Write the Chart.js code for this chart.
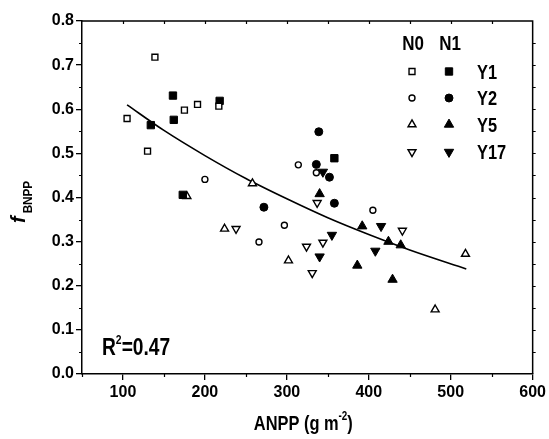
<!DOCTYPE html>
<html>
<head>
<meta charset="utf-8">
<script src="https://cdn.jsdelivr.net/npm/chart.js@4.4.1/dist/chart.umd.min.js"></script>
<style>
  html, body { margin: 0; padding: 0; background: #fff; }
  #wrap { width: 549px; height: 439px; }
</style>
</head>
<body>
<div id="wrap"><canvas id="chart" width="549" height="439"></canvas></div>
<script>
// axis ticks
const xTicks = [100, 200, 300, 400, 500, 600];
const xMinorTicks = [50, 150, 250, 350, 450, 550];
const yTicks = [0, 0.1, 0.2, 0.3, 0.4, 0.5, 0.6, 0.7, 0.8];
const yMinorTicks = [0.05, 0.15, 0.25, 0.35, 0.45, 0.55, 0.65, 0.75];

// series: [ANPP, fBNPP]
const y1N0 = [[105, 0.579], [139, 0.718], [130, 0.505], [175, 0.598], [191, 0.611], [217, 0.607]];
const y1N1 = [[134, 0.564], [161, 0.631], [162, 0.576], [218, 0.619], [173, 0.406], [358, 0.489]];
const y2N0 = [[200, 0.441], [314, 0.474], [336, 0.456], [405, 0.371], [297, 0.337], [266, 0.299]];
const y2N1 = [[339, 0.549], [336, 0.475], [352, 0.446], [358, 0.387], [272, 0.378]];
const y5N0 = [[178, 0.403], [224, 0.329], [258, 0.432], [302, 0.257], [481, 0.146], [518, 0.272]];
const y5N1 = [[340, 0.408], [392, 0.335], [424, 0.300], [439, 0.292], [386, 0.246], [429, 0.214]];
const y17N0 = [[238, 0.329], [337, 0.388], [324, 0.289], [344, 0.298], [331, 0.229], [441, 0.325]];
const y17N1 = [[344, 0.458], [355, 0.315], [415, 0.335], [408, 0.279], [340, 0.266]];

// fitted curve
const fitCurve = [[105, 0.610], [150, 0.552], [200, 0.495], [250, 0.443], [300, 0.397],
                  [350, 0.354], [400, 0.316], [450, 0.281], [519, 0.238]];

const rowLabels = ['Y1', 'Y2', 'Y5', 'Y17'];
const colLabels = ['N0', 'N1'];
const r2Text = '0.47';

const FONT = "'Liberation Sans', Arial, sans-serif";
const pts = arr => arr.map(p => ({ x: p[0], y: p[1] }));

const openStyle = { backgroundColor: '#fff', borderColor: '#000', borderWidth: 1.4 };
const fillStyle = { backgroundColor: '#000', borderColor: '#000', borderWidth: 1 };

const markers = [
    { data: y1N0, style: 'rect', radius: 4.2, rotation: 0, open: true },
    { data: y1N1, style: 'rect', radius: 5.2, rotation: 0, open: false },
    { data: y2N0, style: 'circle', radius: 3, rotation: 0, open: true },
    { data: y2N1, style: 'circle', radius: 4, rotation: 0, open: false },
    { data: y5N0, style: 'triangle', radius: 4.6, rotation: 0, open: true },
    { data: y5N1, style: 'triangle', radius: 5.4, rotation: 0, open: false },
    { data: y17N0, style: 'triangle', radius: 4.6, rotation: 180, open: true },
    { data: y17N1, style: 'triangle', radius: 5.4, rotation: 180, open: false }
];

const datasets = markers.map((m, i) => Object.assign({
    type: 'scatter',
    label: rowLabels[Math.floor(i / 2)] + ' ' + colLabels[i % 2],
    data: pts(m.data),
    pointStyle: m.style,
    pointRadius: m.radius,
    pointRotation: m.rotation,
    order: 1
}, m.open ? {
    pointBackgroundColor: openStyle.backgroundColor,
    pointBorderColor: openStyle.borderColor,
    pointBorderWidth: openStyle.borderWidth
} : {
    pointBackgroundColor: fillStyle.backgroundColor,
    pointBorderColor: fillStyle.borderColor,
    pointBorderWidth: fillStyle.borderWidth
}));

datasets.push({
    type: 'line',
    label: 'fit',
    data: pts(fitCurve),
    borderColor: '#000',
    borderWidth: 1.6,
    pointRadius: 0,
    fill: false,
    cubicInterpolationMode: 'monotone',
    order: 10
});

// text squeezed horizontally, the original font is narrow
function narrowText(ctx, s, x, y, size, opts) {
    opts = opts || {};
    ctx.save();
    ctx.translate(x, y);
    ctx.scale(opts.sx || 0.84, 1);
    ctx.font = (opts.style || '') + ' bold ' + size + 'px ' + FONT;
    ctx.textAlign = opts.align || 'left';
    ctx.textBaseline = 'alphabetic';
    ctx.fillStyle = '#000';
    ctx.fillText(s, 0, 0);
    const w = ctx.measureText(s).width * (opts.sx || 0.84);
    ctx.restore();
    return w;
}

const framePlugin = {
    id: 'frame',
    afterDraw(chart) {
        const ctx = chart.ctx;
        const a = chart.chartArea;
        const xs = chart.scales.x, ys = chart.scales.y;
        ctx.save();
        ctx.strokeStyle = '#000';
        ctx.lineWidth = 1.5;
        // top and right frame
        ctx.beginPath();
        ctx.moveTo(a.left, a.top);
        ctx.lineTo(a.right, a.top);
        ctx.lineTo(a.right, a.bottom);
        ctx.stroke();

        ctx.lineWidth = 1.2;
        ctx.beginPath();
        xMinorTicks.forEach(v => {
            const px = Math.round(xs.getPixelForValue(v)) + 0.5;
            ctx.moveTo(px, a.bottom); ctx.lineTo(px, a.bottom + 3);
        });
        xTicks.concat(xMinorTicks).forEach(v => {
            const px = Math.round(xs.getPixelForValue(v)) + 0.5;
            if (px > a.left + 1 && px < a.right - 1) { ctx.moveTo(px, a.top); ctx.lineTo(px, a.top + 3); }
        });
        yMinorTicks.forEach(v => {
            const py = Math.round(ys.getPixelForValue(v)) + 0.5;
            ctx.moveTo(a.left, py); ctx.lineTo(a.left - 3, py);
        });
        yTicks.concat(yMinorTicks).forEach(v => {
            const py = Math.round(ys.getPixelForValue(v)) + 0.5;
            if (py > a.top + 1 && py < a.bottom - 1) { ctx.moveTo(a.right, py); ctx.lineTo(a.right + 3, py); }
        });
        ctx.stroke();

        // x title: ANPP (g m-2)
        const cx = (a.left + a.right) / 2 - 4;
        const base = 430;
        const sx = 0.82;
        ctx.font = 'bold 20px ' + FONT;
        const w1 = ctx.measureText('ANPP (g m').width * sx;
        ctx.font = 'bold 12px ' + FONT;
        const w2 = ctx.measureText('-2').width * sx;
        ctx.font = 'bold 20px ' + FONT;
        const w3 = ctx.measureText(')').width * sx;
        let x0 = cx - (w1 + w2 + w3) / 2;
        narrowText(ctx, 'ANPP (g m', x0, base, 20, { sx });
        narrowText(ctx, '-2', x0 + w1, base - 10, 12, { sx });
        narrowText(ctx, ')', x0 + w1 + w2, base, 20, { sx });

        // y title: f with subscript BNPP
        ctx.save();
        ctx.translate(25, 223);
        ctx.rotate(-Math.PI / 2);
        const wf = narrowText(ctx, 'f', 0, 0, 20, { style: 'italic', sx: 1 });
        narrowText(ctx, 'BNPP', wf + 3, 7, 13, { sx: 0.9 });
        ctx.restore();

        // R^2 label
        const rw = narrowText(ctx, 'R', 102, 355, 24, { sx: 0.8 });
        const sw = narrowText(ctx, '2', 102 + rw, 344, 13, { sx: 0.8 });
        narrowText(ctx, '=' + r2Text, 102 + rw + sw, 355, 24, { sx: 0.8 });

        // legend
        const colX = [412, 449];
        const rowY = [71.5, 98, 124.5, 152];
        colLabels.forEach((t, i) => narrowText(ctx, t, colX[i] + 1, 50, 20, { align: 'center', sx: 0.85 }));
        rowLabels.forEach((t, r) => narrowText(ctx, t, 477, rowY[r] + 7, 20, { sx: 0.82 }));
        markers.forEach((m, i) => {
            const r = Math.floor(i / 2), c = i % 2;
            ctx.save();
            ctx.fillStyle = m.open ? openStyle.backgroundColor : fillStyle.backgroundColor;
            ctx.strokeStyle = '#000';
            ctx.lineWidth = m.open ? openStyle.borderWidth : fillStyle.borderWidth;
            Chart.helpers.drawPoint(ctx, {
                pointStyle: m.style,
                radius: m.radius,
                rotation: m.rotation,
                borderWidth: ctx.lineWidth
            }, colX[c], rowY[r]);
            ctx.restore();
        });
        ctx.restore();
    }
};

new Chart(document.getElementById('chart'), {
    type: 'scatter',
    data: { datasets: datasets },
    options: {
        responsive: false,
        animation: false,
        events: [],
        layout: { padding: { top: 21, right: 13, left: 0, bottom: 0 } },
        plugins: {
            legend: { display: false },
            tooltip: { enabled: false }
        },
        scales: {
            x: {
                type: 'linear',
                min: 50,
                max: 600,
                afterFit(scale) { scale.height = 65; },
                afterBuildTicks(scale) { scale.ticks = xTicks.map(v => ({ value: v })); },
                grid: { display: true, drawOnChartArea: false, tickLength: 6, color: '#000', lineWidth: 1.3 },
                border: { display: true, color: '#000', width: 1.5 },
                ticks: {
                    padding: 3,
                    color: '#000',
                    maxRotation: 0,
                    font: { family: FONT, size: 16, weight: 'bold' },
                    callback: v => String(v)
                }
            },
            y: {
                type: 'linear',
                min: 0,
                max: 0.8,
                afterFit(scale) { scale.width = 82; },
                afterBuildTicks(scale) { scale.ticks = yTicks.map(v => ({ value: v })); },
                grid: { display: true, drawOnChartArea: false, tickLength: 6, color: '#000', lineWidth: 1.3 },
                border: { display: true, color: '#000', width: 1.5 },
                ticks: {
                    padding: 2,
                    color: '#000',
                    font: { family: FONT, size: 16, weight: 'bold' },
                    callback: v => Number(v).toFixed(1)
                }
            }
        }
    },
    plugins: [framePlugin]
});
</script>
</body>
</html>
